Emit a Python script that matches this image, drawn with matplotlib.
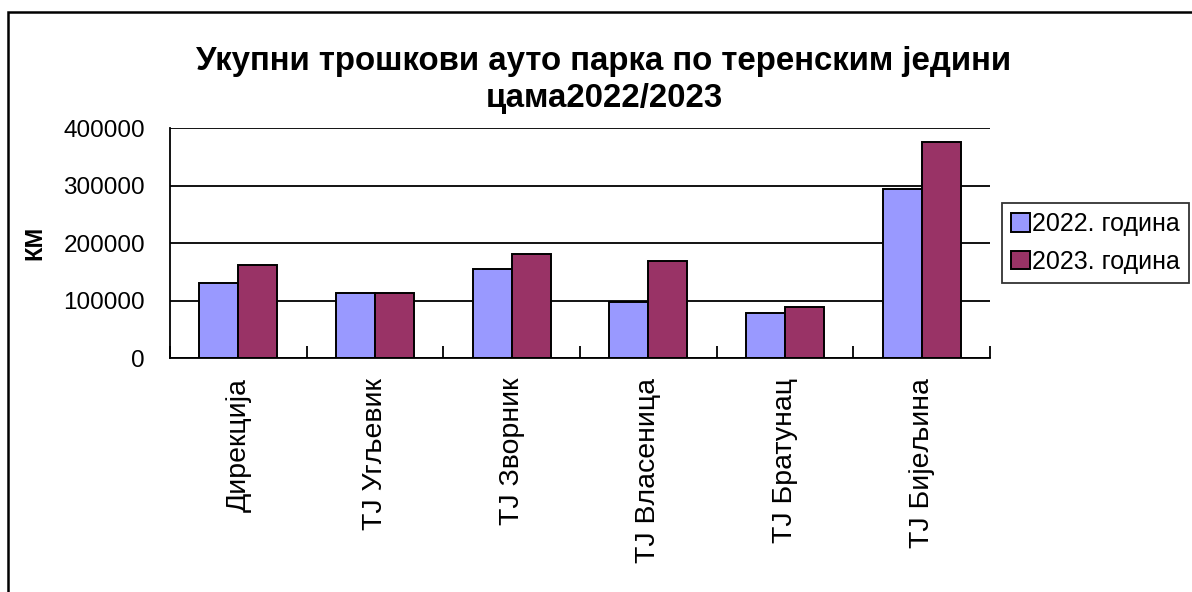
import matplotlib
matplotlib.use("Agg")
import matplotlib.pyplot as plt
import numpy as np
from matplotlib.patches import Rectangle

plt.rcParams["font.family"] = ["Liberation Sans", "DejaVu Sans"]

CATEGORIES = [
    "Дирекција",
    "ТЈ Угљевик",
    "ТЈ Зворник",
    "ТЈ Власеница",
    "ТЈ Братунац",
    "ТЈ Бијељина",
]
COSTS_2022 = [131000, 113000, 155000, 98000, 78000, 294000]
COSTS_2023 = [162000, 113000, 181000, 169000, 89000, 376000]
SERIES_LABELS = ["2022. година", "2023. година"]
Y_TICKS = [0, 100000, 200000, 300000, 400000]

TITLE = "Укупни трошкови ауто парка по теренским једини\nцама2022/2023"


def main() -> None:
    fig = plt.figure(figsize=(11.92, 5.92), dpi=100)
    W, H = 1192, 592

    # outer chart frame (runs off the right and bottom edges)
    fig.patches.append(
        Rectangle((8 / W, -0.05), 1.1, 1 - 12 / H + 0.05,
                  transform=fig.transFigure, fill=False,
                  edgecolor="black", linewidth=1.8, zorder=0)
    )

    ax = fig.add_axes([170 / W, 1 - 358.3 / H, 820 / W, 230 / H])

    x = np.arange(len(CATEGORIES))
    w = 0.285
    ax.bar(x - w / 2, COSTS_2022, width=w, color="#9999FF",
           edgecolor="black", linewidth=1.4, label=SERIES_LABELS[0], zorder=3)
    ax.bar(x + w / 2, COSTS_2023, width=w, color="#993366",
           edgecolor="black", linewidth=1.4, label=SERIES_LABELS[1], zorder=3)

    ax.set_xlim(-0.5, len(CATEGORIES) - 0.5)
    ax.set_ylim(0, 400000)
    ax.set_yticks(Y_TICKS)
    ax.set_yticklabels([str(v) for v in Y_TICKS], fontsize=17.5)
    ax.yaxis.grid(True, color="black", linewidth=1.3, zorder=1)
    ax.tick_params(axis="y", length=0, pad=18)

    ax.set_xticks(x)
    ax.set_xticklabels(CATEGORIES, rotation=90, fontsize=20.5, va="top")
    ax.tick_params(axis="x", which="major", length=0, pad=14)
    ax.set_xticks(np.arange(len(CATEGORIES) + 1) - 0.5, minor=True)
    ax.tick_params(axis="x", which="minor", direction="in", length=9,
                   width=1.3, color="black")

    for side in ("top", "right"):
        ax.spines[side].set_visible(False)
    ax.spines["left"].set_linewidth(1.3)
    ax.spines["bottom"].set_linewidth(1.3)
    ax.spines["left"].set_zorder(4)
    ax.spines["bottom"].set_zorder(4)

    ax.set_ylabel("КМ", fontsize=17, fontweight="bold", labelpad=12)

    fig.text(604 / W, 1 - 80 / H, TITLE, ha="center", va="center",
             fontsize=23.8, fontweight="bold", linespacing=1.25)

    leg = ax.legend(loc="center left", bbox_to_anchor=(1002 / W, 1 - 243 / H),
                    bbox_transform=fig.transFigure, fontsize=18,
                    frameon=True, fancybox=False, borderpad=0.35,
                    handlelength=0.75, handleheight=0.75, handletextpad=0.1,
                    labelspacing=0.55, borderaxespad=0)
    leg.get_frame().set_edgecolor("black")
    leg.get_frame().set_linewidth(1.3)

    fig.savefig("out.png", dpi=100)
    plt.close(fig)


if __name__ == "__main__":
    main()
